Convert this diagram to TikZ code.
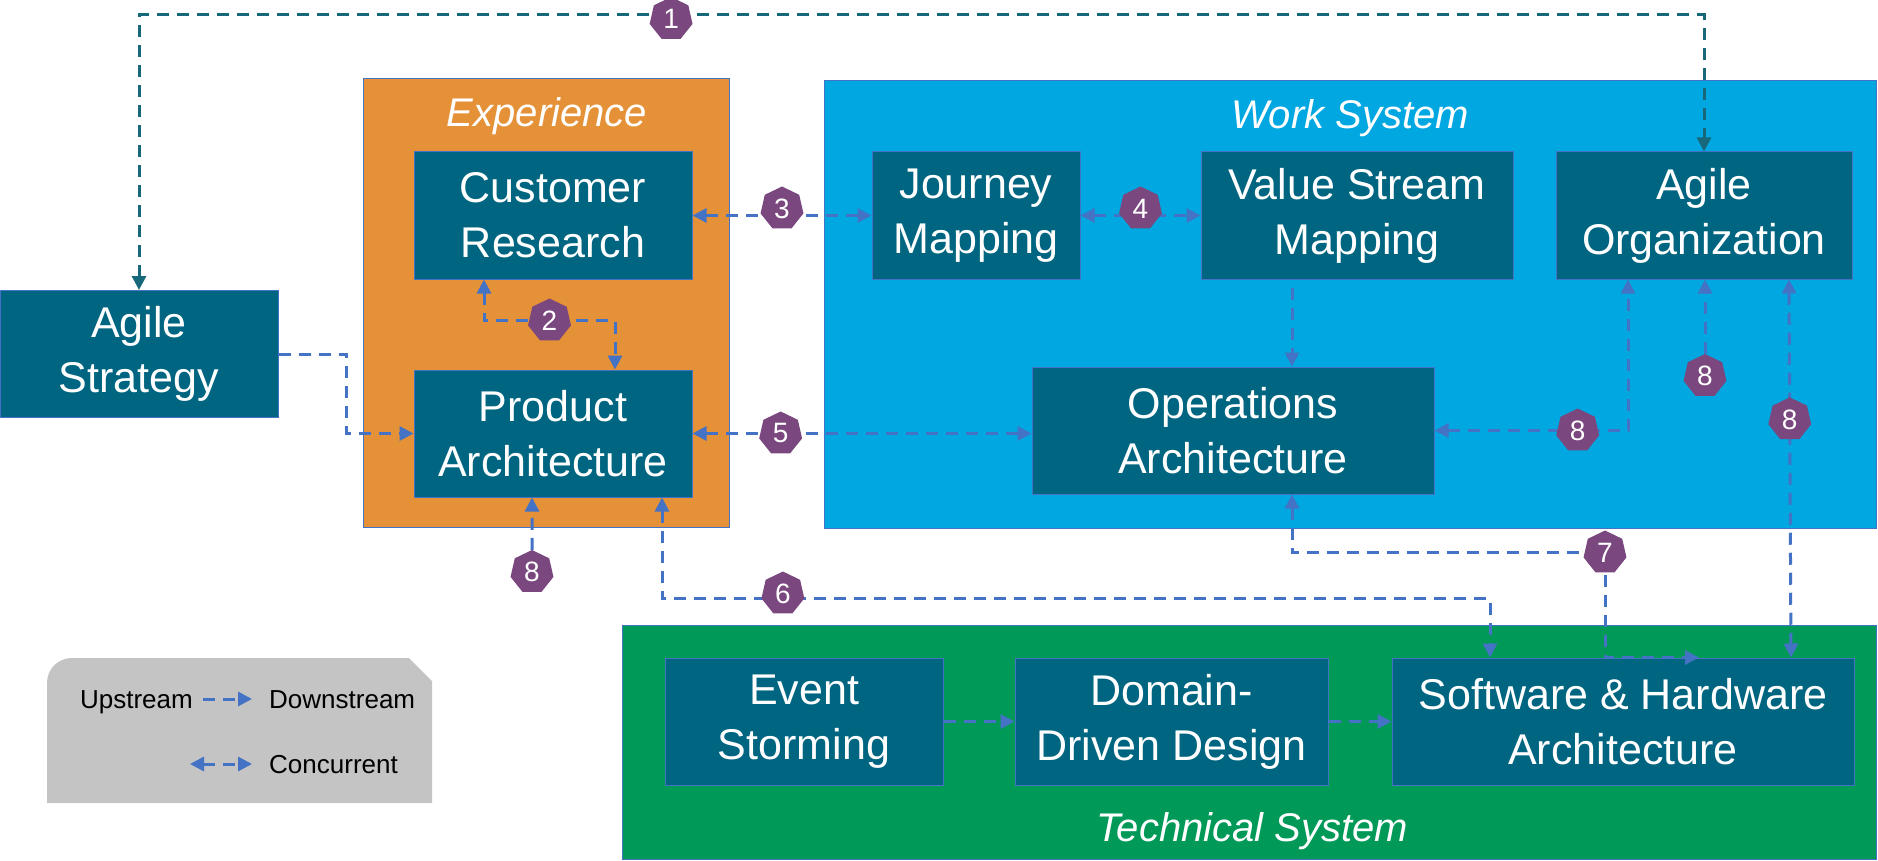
\documentclass[tikz,border=0pt]{standalone}
\usepackage{fontspec}
\setmainfont{Liberation Sans}
\usetikzlibrary{positioning,shapes.geometric,arrows.meta}
\definecolor{boxteal}{RGB}{0,101,128}
\definecolor{exporange}{RGB}{229,145,56}
\definecolor{workblue}{RGB}{0,167,224}
\definecolor{techgreen}{RGB}{0,153,87}
\definecolor{badgepurple}{RGB}{122,71,127}
\definecolor{arrowblue}{RGB}{68,114,196}
\definecolor{darkteal}{RGB}{22,104,122}
\definecolor{legendgray}{RGB}{196,196,196}
\begin{document}
\begin{tikzpicture}[x=1pt, y=-1pt, node distance=90pt, >={Triangle[length=14pt,width=14pt]},
    box/.style = {draw=arrowblue, line width=1pt, fill=boxteal, text=white, align=center,
                  minimum height=127pt, inner sep=0pt, font=\fontsize{43}{55}\selectfont},
    panel/.style = {draw=arrowblue, line width=1pt},
    title/.style = {text=white, font=\fontsize{40}{48}\selectfont\itshape},
    badge/.style = {regular polygon, regular polygon sides=7, fill=badgepurple, text=white,
                    minimum size=44pt, inner sep=0pt, font=\fontsize{28}{28}\selectfont},
    flow/.style = {draw=arrowblue, line width=3pt, dash pattern=on 12pt off 8pt, ->},
    both/.style = {flow, <->},
    legtext/.style = {inner sep=0pt, text height=19pt, text depth=0pt, font=\fontsize{26}{30}\selectfont}]
    \useasboundingbox (0,0) rectangle (1878,861);

    % areas
    \draw[panel, fill=exporange] (363,79) rectangle (729,527);
    \draw[panel, fill=workblue] (824,81) rectangle (1876,528);
    \draw[panel, fill=techgreen] (622,625) rectangle (1876,859);
    \node[title] (exptitle) at (547,116) {Experience};
    \node[title] (worktitle) at (1350,118) {Work System};
    \node[title] (techtitle) at (1252,831) {Technical System};

    % blocks
    \node[box, minimum width=278pt] (as) at (139,354) {Agile\\Strategy};
    \node[box, minimum width=278pt] (cr) at (553,215.5) {Customer\\Research};
    \node[box, minimum width=278pt, below=of cr] (pa) {Product\\Architecture};
    \node[box, minimum width=208pt] (jm) at (976,215.5) {Journey\\Mapping};
    \node[box, minimum width=312pt] (vsm) at (1357,215.5) {Value Stream\\Mapping};
    \node[box, minimum width=296pt] (ao) at (1704,215.5) {Agile\\Organization};
    \node[box, minimum width=402pt] (ops) at (1233,430.5) {Operations\\Architecture};
    \node[box, minimum width=278pt] (es) at (804,721.5) {Event\\Storming};
    \node[box, minimum width=313pt, right=71pt of es] (ddd) {Domain-\\Driven Design};
    \node[box, minimum width=462pt, right=63pt of ddd] (sha) {Software \& Hardware\\Architecture};

    % links
    \draw[both, draw=darkteal] (as.north) -- ++(0,-275) -| node[badge, pos=0.17, yshift=-4pt] {1} (ao.north);
    \draw[both] ([xshift=-69pt]cr.south) -- ++(0,41) -| node[badge, pos=0.25] {2} ([xshift=62pt]pa.north);
    \draw[both] (cr.east) -- node[badge, yshift=7pt] {3} (jm.west);
    \draw[both] (jm.east) -- node[badge, yshift=7pt] {4} (vsm.west);
    \draw[both] (pa.east) -- node[badge, pos=0.26] {5} (pa.east -| ops.west);
    \draw[flow] (as.east) -- ++(68,0) |- (pa.west);
    \draw[flow] ([xshift=-65pt, yshift=-8pt]vsm.south) -- ([xshift=-65pt]vsm.south |- ops.north);
    \draw[both] ([xshift=109pt]pa.south) -- ++(0,101) -| node[badge, pos=0.073, yshift=5pt] {6} ([xshift=-133pt]sha.north);
    \draw[both] ([xshift=59pt]ops.south) -- ++(0,58) -| node[badge, pos=0.5] {7} ([xshift=-18pt]sha.north) -- ([xshift=76pt]sha.north);
    \node[badge] (b8pa) at (532,572) {8};
    \draw[flow] (b8pa) -- (b8pa |- pa.south);
    \draw[both] (ops.east) -| node[badge, pos=0.37] {8} ([xshift=-76pt]ao.south);
    \node[badge] (b8ao) at (1705,376) {8};
    \draw[flow] (b8ao) -- (b8ao |- ao.south);
    \draw[both] ([xshift=85pt]ao.south) -- node[badge, pos=0.37] {8} ([xshift=168pt]sha.north);
    \draw[flow] (es) -- (ddd);
    \draw[flow] (ddd) -- (sha);

    % legend
    \fill[legendgray] (47,803) -- (47,683) .. controls (47,669) and (58,658) .. (72,658)
        -- (409,658) -- (432,681) -- (432,803) -- cycle;
    \node[legtext, anchor=east] (ups) at (193,699) {Upstream};
    \node[legtext, anchor=west] (dns) at (269,699) {Downstream};
    \draw[flow, shorten <=10pt, shorten >=17pt] (ups) -- (dns);
    \node[legtext, anchor=west] (conc) at (269,764) {Concurrent};
    \coordinate (concl) at (190,764);
    \draw[both, shorten >=17pt] (concl) -- (conc.west);
\end{tikzpicture}
\end{document}
